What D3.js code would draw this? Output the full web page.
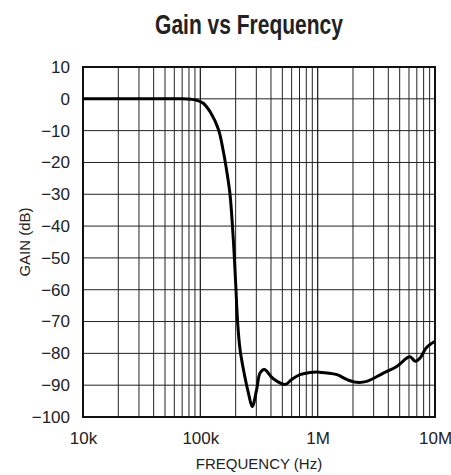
<!DOCTYPE html>
<html><head><meta charset="utf-8">
<script src="https://cdn.jsdelivr.net/npm/d3@7"></script>
<style>body{margin:0;background:#fff}</style>
</head><body>
<svg id="c" width="451" height="475"></svg>
<script>
const title = "Gain vs Frequency";
const xLabel = "FREQUENCY (Hz)";
const yLabel = "GAIN (dB)";
const xTickValues = [1e4, 1e5, 1e6, 1e7];
const xTickLabels = ["10k", "100k", "1M", "10M"];
const yTickValues = [10, 0, -10, -20, -30, -40, -50, -60, -70, -80, -90, -100];
const freq = [1e4, 5e4, 7e4, 8.3e4, 9.3e4, 1.06e5, 1.25e5, 1.43e5, 1.57e5, 1.68e5, 1.79e5, 1.91e5, 2.0e5, 2.08e5, 2.18e5, 2.33e5, 2.57e5, 2.77e5, 3.02e5, 3.23e5, 3.51e5, 4.19e5, 5.27e5, 6.01e5, 7.08e5, 8.61e5, 1.03e6, 1.46e6, 1.77e6, 2.15e6, 2.62e6, 3.63e6, 4.72e6, 6.1e6, 6.8e6, 7.5e6, 8.4e6, 1e7];
const gain = [0, 0, 0, -0.15, -0.45, -1.4, -4.9, -9.7, -16.5, -22.8, -30, -44.2, -57.9, -70.4, -78.8, -85.1, -92.5, -96.7, -91.4, -86.2, -85.1, -88, -89.8, -88.2, -86.7, -86.0, -85.9, -86.7, -88.2, -89.1, -88.8, -86.2, -84.1, -81.1, -82.5, -81.4, -78.3, -76.2];

const svg = d3.select("#c");
const m = {l: 83, r: 435, t: 67, b: 417};
const x = d3.scaleLog().domain([1e4, 1e7]).range([m.l, m.r]);
const y = d3.scaleLinear().domain([-100, 10]).range([m.b, m.t]);

const font = "'Liberation Sans', Arial, sans-serif";

// grid
const g = svg.append("g");
const minor = [];
for (let d = 1e4; d < 1e7; d *= 10) for (let k = 1; k <= 10; k++) minor.push(d * k);
g.selectAll("line.v").data(minor).join("line")
  .attr("x1", d => x(d)).attr("x2", d => x(d))
  .attr("y1", m.t).attr("y2", m.b)
  .attr("stroke", "#222").attr("stroke-width", 1);
g.selectAll("line.h").data(yTickValues).join("line")
  .attr("x1", m.l).attr("x2", m.r)
  .attr("y1", d => y(d)).attr("y2", d => y(d))
  .attr("stroke", "#222").attr("stroke-width", 1);

// frame
svg.append("rect").attr("x", m.l).attr("y", m.t).attr("width", m.r - m.l).attr("height", m.b - m.t)
  .attr("fill", "none").attr("stroke", "#111").attr("stroke-width", 2);

// axes
const xa = svg.append("g").attr("transform", `translate(0,${m.b})`)
  .call(d3.axisBottom(x).tickValues(xTickValues).tickFormat((d, i) => xTickLabels[i]).tickSize(0).tickPadding(15));
const ya = svg.append("g").attr("transform", `translate(${m.l},0)`)
  .call(d3.axisLeft(y).tickValues(yTickValues).tickFormat(d3.format("d")).tickSize(0).tickPadding(13));
[xa, ya].forEach(a => {
  a.select(".domain").remove();
  a.selectAll("text").attr("font-family", font).attr("font-size", 17).attr("fill", "#222");
});

// curve
svg.append("path").datum(freq.map((f, i) => [f, gain[i]]))
  .attr("d", d3.line().x(d => x(d[0])).y(d => y(d[1])).curve(d3.curveCatmullRom.alpha(0.5)))
  .attr("fill", "none").attr("stroke", "#000").attr("stroke-width", 3).attr("stroke-linejoin", "round");

// labels
svg.append("text").attr("transform", "translate(249,34) scale(0.75,1)").attr("text-anchor", "middle")
  .attr("font-family", font).attr("font-weight", "bold").attr("font-size", 28).attr("fill", "#222").text(title);
svg.append("text").attr("x", 259).attr("y", 469).attr("text-anchor", "middle")
  .attr("font-family", font).attr("font-size", 15).attr("fill", "#222").text(xLabel);
svg.append("text").attr("transform", `translate(30,242) rotate(-90)`).attr("text-anchor", "middle")
  .attr("font-family", font).attr("font-size", 15).attr("fill", "#222").text(yLabel);
</script>
</body></html>
